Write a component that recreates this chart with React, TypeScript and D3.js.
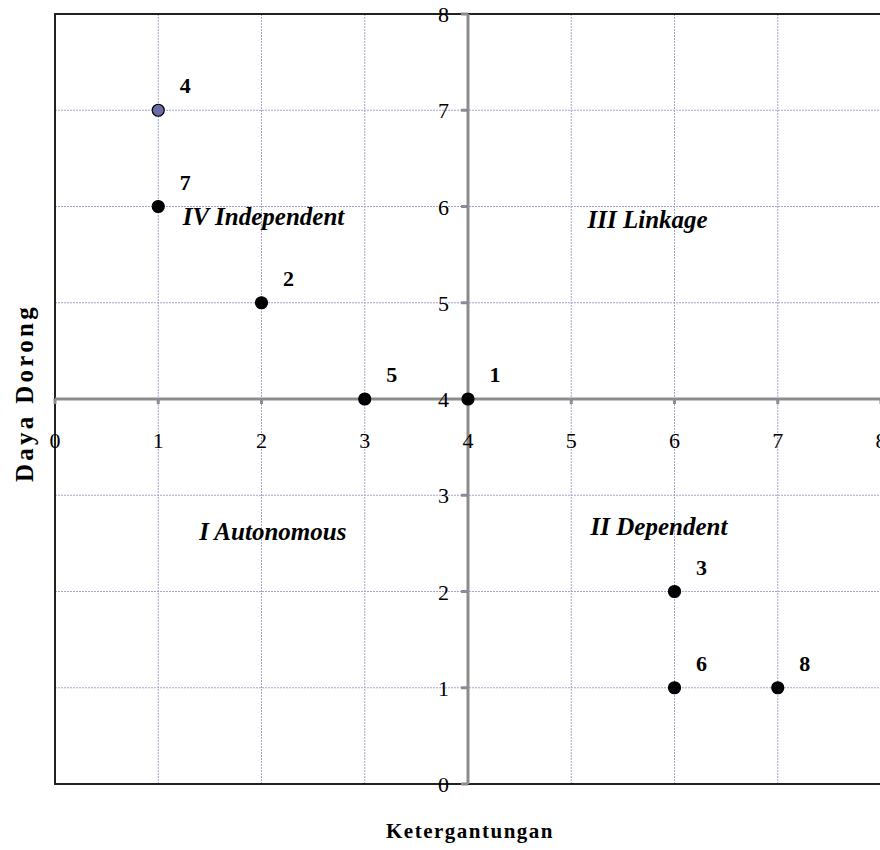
import * as React from 'react';
import * as d3 from 'd3';

// data
const pointIds = ['1', '2', '3', '4', '5', '6', '7', '8'];
const ketergantungan = [4, 2, 6, 1, 3, 6, 1, 7];
const dayaDorong = [4, 5, 2, 7, 4, 1, 6, 1];
const ticks = [0, 1, 2, 3, 4, 5, 6, 7, 8];
const quadrantNames = ['IV Independent', 'III Linkage', 'I Autonomous', 'II Dependent'];
const quadrantX = [2.02, 5.74, 2.11, 5.85];
const quadrantY = [5.81, 5.78, 2.54, 2.59];

const W = 880;
const H = 850;
const margin = { top: 14, right: -1, bottom: 66, left: 55 };
const serif = '"Liberation Serif", "Times New Roman", serif';

export default function App() {
  const x = d3.scaleLinear().domain([0, 8]).range([margin.left, W - margin.right]);
  const y = d3.scaleLinear().domain([0, 8]).range([H - margin.bottom, margin.top]);
  const x0 = x(0), x8 = x(8), yTop = y(8), yBot = y(0);
  const cx = x(4), cy = y(4);
  const inner = ticks.filter(t => t > 0 && t < 8);

  return (
    <svg width={W} height={H} style={{ position: 'absolute', left: 0, top: 0, background: '#fff' }} fontFamily={serif}>
      {/* grid */}
      <g stroke="#a4a4d0" strokeWidth={1} strokeDasharray="2,1">
        {inner.map(t => (
          <line key={'gx' + t} x1={x(t)} x2={x(t)} y1={yTop} y2={yBot} />
        ))}
        {inner.map(t => (
          <line key={'gy' + t} x1={x0} x2={x8} y1={y(t)} y2={y(t)} />
        ))}
      </g>

      {/* frame */}
      <g stroke="#222" strokeWidth={2} fill="none">
        <line x1={x0} x2={x8 + 2} y1={yTop} y2={yTop} />
        <line x1={x0} x2={x8 + 2} y1={yBot} y2={yBot} />
        <line x1={x0} x2={x0} y1={yTop - 1} y2={yBot + 1} />
      </g>

      {/* axes crossing at (4,4) */}
      <g stroke="#8c8c8c" strokeWidth={3}>
        <line x1={x0} x2={x8} y1={cy} y2={cy} />
        <line x1={cx} x2={cx} y1={yTop} y2={yBot} />
        {ticks.map(t => (
          <line key={'tx' + t} x1={x(t)} x2={x(t)} y1={cy} y2={cy + 5} />
        ))}
        {ticks.map(t => (
          <line key={'ty' + t} x1={cx} x2={cx - 7} y1={y(t)} y2={y(t)} />
        ))}
      </g>

      {/* tick labels */}
      <g fontSize={22} fill="#000">
        {ticks.map(t => (
          <text key={'lx' + t} x={x(t)} y={cy + 49} textAnchor="middle">{t}</text>
        ))}
        {ticks.map(t => (
          <text key={'ly' + t} x={cx - 19} y={y(t) + 8} textAnchor="end">{t}</text>
        ))}
      </g>

      {/* quadrant names */}
      <g fontSize={25} fontWeight="bold" fontStyle="italic" textAnchor="middle">
        {quadrantNames.map((q, i) => (
          <text key={q} x={x(quadrantX[i])} y={y(quadrantY[i])}>{q}</text>
        ))}
      </g>

      {/* points */}
      <g>
        {pointIds.map((id, i) => (
          <g key={id}>
            <circle
              cx={x(ketergantungan[i])}
              cy={y(dayaDorong[i])}
              r={6}
              fill={id === '4' ? '#6b6ba6' : '#000'}
              stroke="#000"
              strokeWidth={1.2}
            />
            <text
              x={x(ketergantungan[i]) + 27}
              y={y(dayaDorong[i]) - 17}
              fontSize={22}
              fontWeight="bold"
              textAnchor="middle"
            >{id}</text>
          </g>
        ))}
      </g>

      {/* axis titles */}
      <text x={470} y={838} fontSize={21} fontWeight="bold" letterSpacing={1.5} textAnchor="middle">Ketergantungan</text>
      <text
        transform={`translate(33, ${cy - 6}) rotate(-90)`}
        fontSize={25}
        fontWeight="bold"
        letterSpacing={3.3}
        textAnchor="middle"
      >Daya Dorong</text>
    </svg>
  );
}
